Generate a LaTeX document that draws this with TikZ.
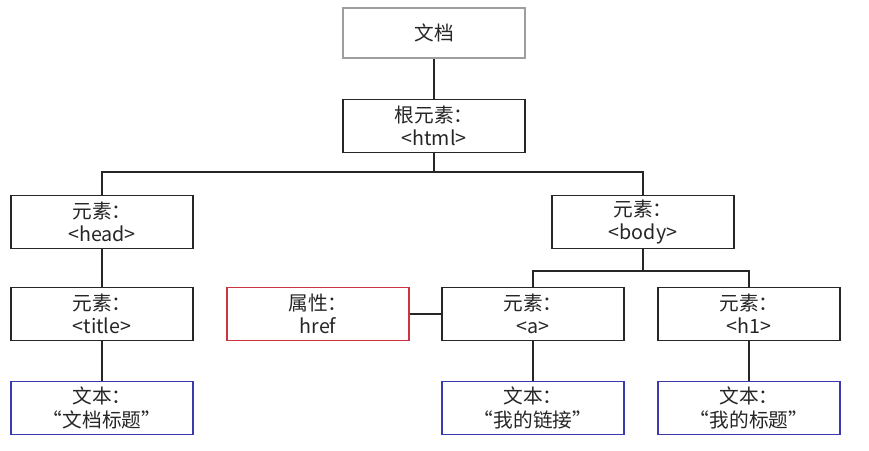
\documentclass[tikz,border=0pt]{standalone}
\usepackage{fontspec}
\setmainfont{Noto Sans CJK SC}
\definecolor{attrred}{RGB}{204,52,64}
\definecolor{textblue}{RGB}{58,58,172}
\begin{document}
\begin{tikzpicture}[
  x=0.025cm, y=-0.025cm, font=\fontsize{14}{16.5}\selectfont,
  elem/.style={draw=black!85, line width=1pt, fill=white, align=center,
    minimum width=4.55cm, minimum height=1.33cm, inner sep=0pt, text=black!85},
  docbox/.style={elem, draw=black!38, line width=2pt, minimum height=1.25cm},
  attr/.style={elem, draw=attrred},
  textbox/.style={elem, draw=textblue},
  link/.style={draw=black!85, line width=1pt}
]
  \useasboundingbox (0,0) rectangle (869,451);

  %% ============================================ document and root
  \node[docbox] (doc) at (434,33) {文档};
  \node[elem] (root) at (434,126) {根元素：\\<html>};
  \draw[link] (doc) -- (root);

  %% ------------------------------------------------ head branch
  \node[elem] (head) at (102,222) {元素：\\<head>};
  \node[elem] (title) at (102,314) {元素：\\<title>};
  \node[textbox] (ttext) at (102,408) {文本：\\“文档标题”};

  %% ------------------------------------------------ body branch
  \node[elem] (body) at (643,222) {元素：\\<body>};
  \node[attr] (href) at (318,314) {属性：\\href};
  \node[elem] (anchor) at (533,314) {元素：\\<a>};
  \node[elem] (hone) at (749,314) {元素：\\<h1>};
  \node[textbox] (atext) at (533,408) {文本：\\“我的链接”};
  \node[textbox] (htext) at (749,408) {文本：\\“我的标题”};

  % the two buses under root and body
  \coordinate (rootbus) at (434,172);
  \coordinate (bodybus) at (643,271);
  \draw[link] (root) -- (rootbus);
  \draw[link] (head.north) |- (rootbus) -| (body.north);
  \draw[link] (body) -- (bodybus);
  \draw[link] (anchor.north) |- (bodybus) -| (hone.north);

  \draw[link] (head) -- (title);
  \draw[link] (title) -- (ttext);
  \draw[link] (href) -- (anchor);
  \draw[link] (anchor) -- (atext);
  \draw[link] (hone) -- (htext);

\end{tikzpicture}
\end{document}
